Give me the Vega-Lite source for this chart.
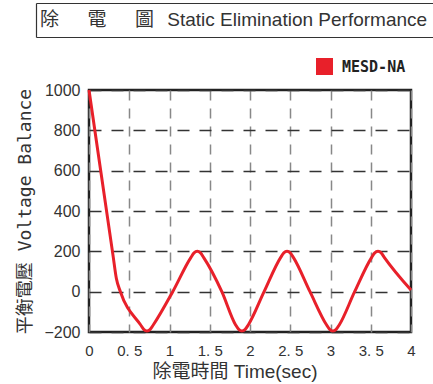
{
  "$schema": "https://vega.github.io/schema/vega-lite/v6.json",
  "background": "white",
  "padding": {"left": 15, "top": 2, "right": 0, "bottom": 0},
  "spacing": 18,
  "resolve": {"scale": {"color": "independent"}, "legend": {"color": "independent"}},
  "vconcat": [
    {
      "width": 360,
      "height": 34,
      "view": {"stroke": null},
      "data": {"values": [{"label": "除\u3000\u2002電\u3000\u2002圖\u2002\u2009Static Elimination Performance", "pos": 0, "row": 0.5}]},
      "mark": {"type": "text", "align": "left", "baseline": "middle", "fontSize": 19, "font": "Liberation Sans, Noto Sans CJK TC", "color": "#333", "dx": -49},
      "encoding": {
        "x": {"field": "pos", "type": "quantitative", "scale": {"domain": [0, 1]}, "axis": null},
        "y": {"field": "row", "type": "quantitative", "scale": {"domain": [0, 1]}, "axis": {"orient": "left", "offset": 53, "domain": true, "domainColor": "#333", "domainWidth": 1.2, "labels": false, "grid": false, "ticks": true, "tickSize": -413, "tickColor": "#333", "tickWidth": 1.2, "values": [0, 1], "title": null}},
        "text": {"field": "label"}
      }
    },
    {
      "width": 322,
      "height": 242,
      "view": {"stroke": "#222", "strokeWidth": 2.5},
      "data": {"values": [
        {"series": "MESD-NA", "time": 0, "voltage": 1000},
        {"series": "MESD-NA", "time": 0.3, "voltage": 175},
        {"series": "MESD-NA", "time": 0.34, "voltage": 65},
        {"series": "MESD-NA", "time": 0.39, "voltage": 0},
        {"series": "MESD-NA", "time": 0.64, "voltage": -164},
        {"series": "MESD-NA", "time": 0.68, "voltage": -187},
        {"series": "MESD-NA", "time": 0.72, "voltage": -195},
        {"series": "MESD-NA", "time": 0.76, "voltage": -187},
        {"series": "MESD-NA", "time": 0.8, "voltage": -164},
        {"series": "MESD-NA", "time": 1.04, "voltage": 0},
        {"series": "MESD-NA", "time": 1.265, "voltage": 169},
        {"series": "MESD-NA", "time": 1.305, "voltage": 192},
        {"series": "MESD-NA", "time": 1.345, "voltage": 200},
        {"series": "MESD-NA", "time": 1.385, "voltage": 192},
        {"series": "MESD-NA", "time": 1.425, "voltage": 169},
        {"series": "MESD-NA", "time": 1.65, "voltage": 0},
        {"series": "MESD-NA", "time": 1.82, "voltage": -164},
        {"series": "MESD-NA", "time": 1.86, "voltage": -187},
        {"series": "MESD-NA", "time": 1.9, "voltage": -195},
        {"series": "MESD-NA", "time": 1.94, "voltage": -187},
        {"series": "MESD-NA", "time": 1.98, "voltage": -164},
        {"series": "MESD-NA", "time": 2.175, "voltage": 0},
        {"series": "MESD-NA", "time": 2.38, "voltage": 169},
        {"series": "MESD-NA", "time": 2.42, "voltage": 192},
        {"series": "MESD-NA", "time": 2.46, "voltage": 200},
        {"series": "MESD-NA", "time": 2.5, "voltage": 192},
        {"series": "MESD-NA", "time": 2.54, "voltage": 169},
        {"series": "MESD-NA", "time": 2.745, "voltage": 0},
        {"series": "MESD-NA", "time": 2.95, "voltage": -164},
        {"series": "MESD-NA", "time": 2.99, "voltage": -187},
        {"series": "MESD-NA", "time": 3.03, "voltage": -195},
        {"series": "MESD-NA", "time": 3.07, "voltage": -187},
        {"series": "MESD-NA", "time": 3.11, "voltage": -164},
        {"series": "MESD-NA", "time": 3.3, "voltage": 0},
        {"series": "MESD-NA", "time": 3.51, "voltage": 169},
        {"series": "MESD-NA", "time": 3.55, "voltage": 192},
        {"series": "MESD-NA", "time": 3.59, "voltage": 200},
        {"series": "MESD-NA", "time": 3.63, "voltage": 192},
        {"series": "MESD-NA", "time": 3.67, "voltage": 169},
        {"series": "MESD-NA", "time": 4, "voltage": 8}
      ]},
      "mark": {"type": "line", "interpolate": "monotone", "strokeWidth": 3, "clip": false},
      "encoding": {
        "x": {
          "field": "time", "type": "quantitative",
          "scale": {"domain": [0, 4], "nice": false, "zero": false},
          "axis": {
            "values": [0, 0.5, 1, 1.5, 2, 2.5, 3, 3.5, 4],
            "format": ".1~f",
            "labelExpr": "replace(datum.label, '.', '. ')",
            "domain": false, "ticks": false,
            "grid": true, "gridColor": "#888", "gridDash": [10, 8], "gridWidth": 1.5, "gridOpacity": 1,
            "labelFont": "Liberation Sans", "labelFontSize": 15, "labelColor": "#333", "labelPadding": 11,
            "labelFlush": false,
            "title": "除電時間  Time(sec)",
            "titleFont": "Liberation Sans, Noto Sans CJK TC", "titleFontSize": 19, "titleFontWeight": "normal", "titleColor": "#333",
            "titlePadding": 4, "titleAnchor": "start", "titleX": 63, "titleAlign": "left"
          }
        },
        "y": {
          "field": "voltage", "type": "quantitative",
          "scale": {"domain": [-200, 1000], "nice": false, "zero": false},
          "axis": {
            "values": [-200, 0, 200, 400, 600, 800, 1000],
            "format": "d",
            "domain": false, "ticks": false,
            "grid": true, "gridColor": "#333", "gridDash": [12, 10], "gridWidth": 1.3, "gridOpacity": 1,
            "labelFont": "Liberation Sans", "labelFontSize": 16, "labelColor": "#333", "labelPadding": 9,
            "labelFlush": false,
            "title": "平衡電壓 Voltage Balance",
            "titleFont": "DejaVu Sans Mono, Noto Sans CJK TC", "titleFontSize": 18, "titleFontWeight": "normal", "titleColor": "#333",
            "titlePadding": 9
          }
        },
        "color": {
          "field": "series", "type": "nominal",
          "scale": {"range": ["#e8202a"]},
          "legend": {
            "title": null, "orient": "none", "legendX": 227, "legendY": -32,
            "padding": 0, "symbolType": "square", "symbolSize": 289, "symbolStrokeWidth": 0,
            "symbolFillColor": "#e8202a",
            "labelFont": "DejaVu Sans Mono", "labelFontSize": 15, "labelFontWeight": "bold", "labelColor": "#222", "labelOffset": 9
          }
        }
      }
    }
  ]
}
